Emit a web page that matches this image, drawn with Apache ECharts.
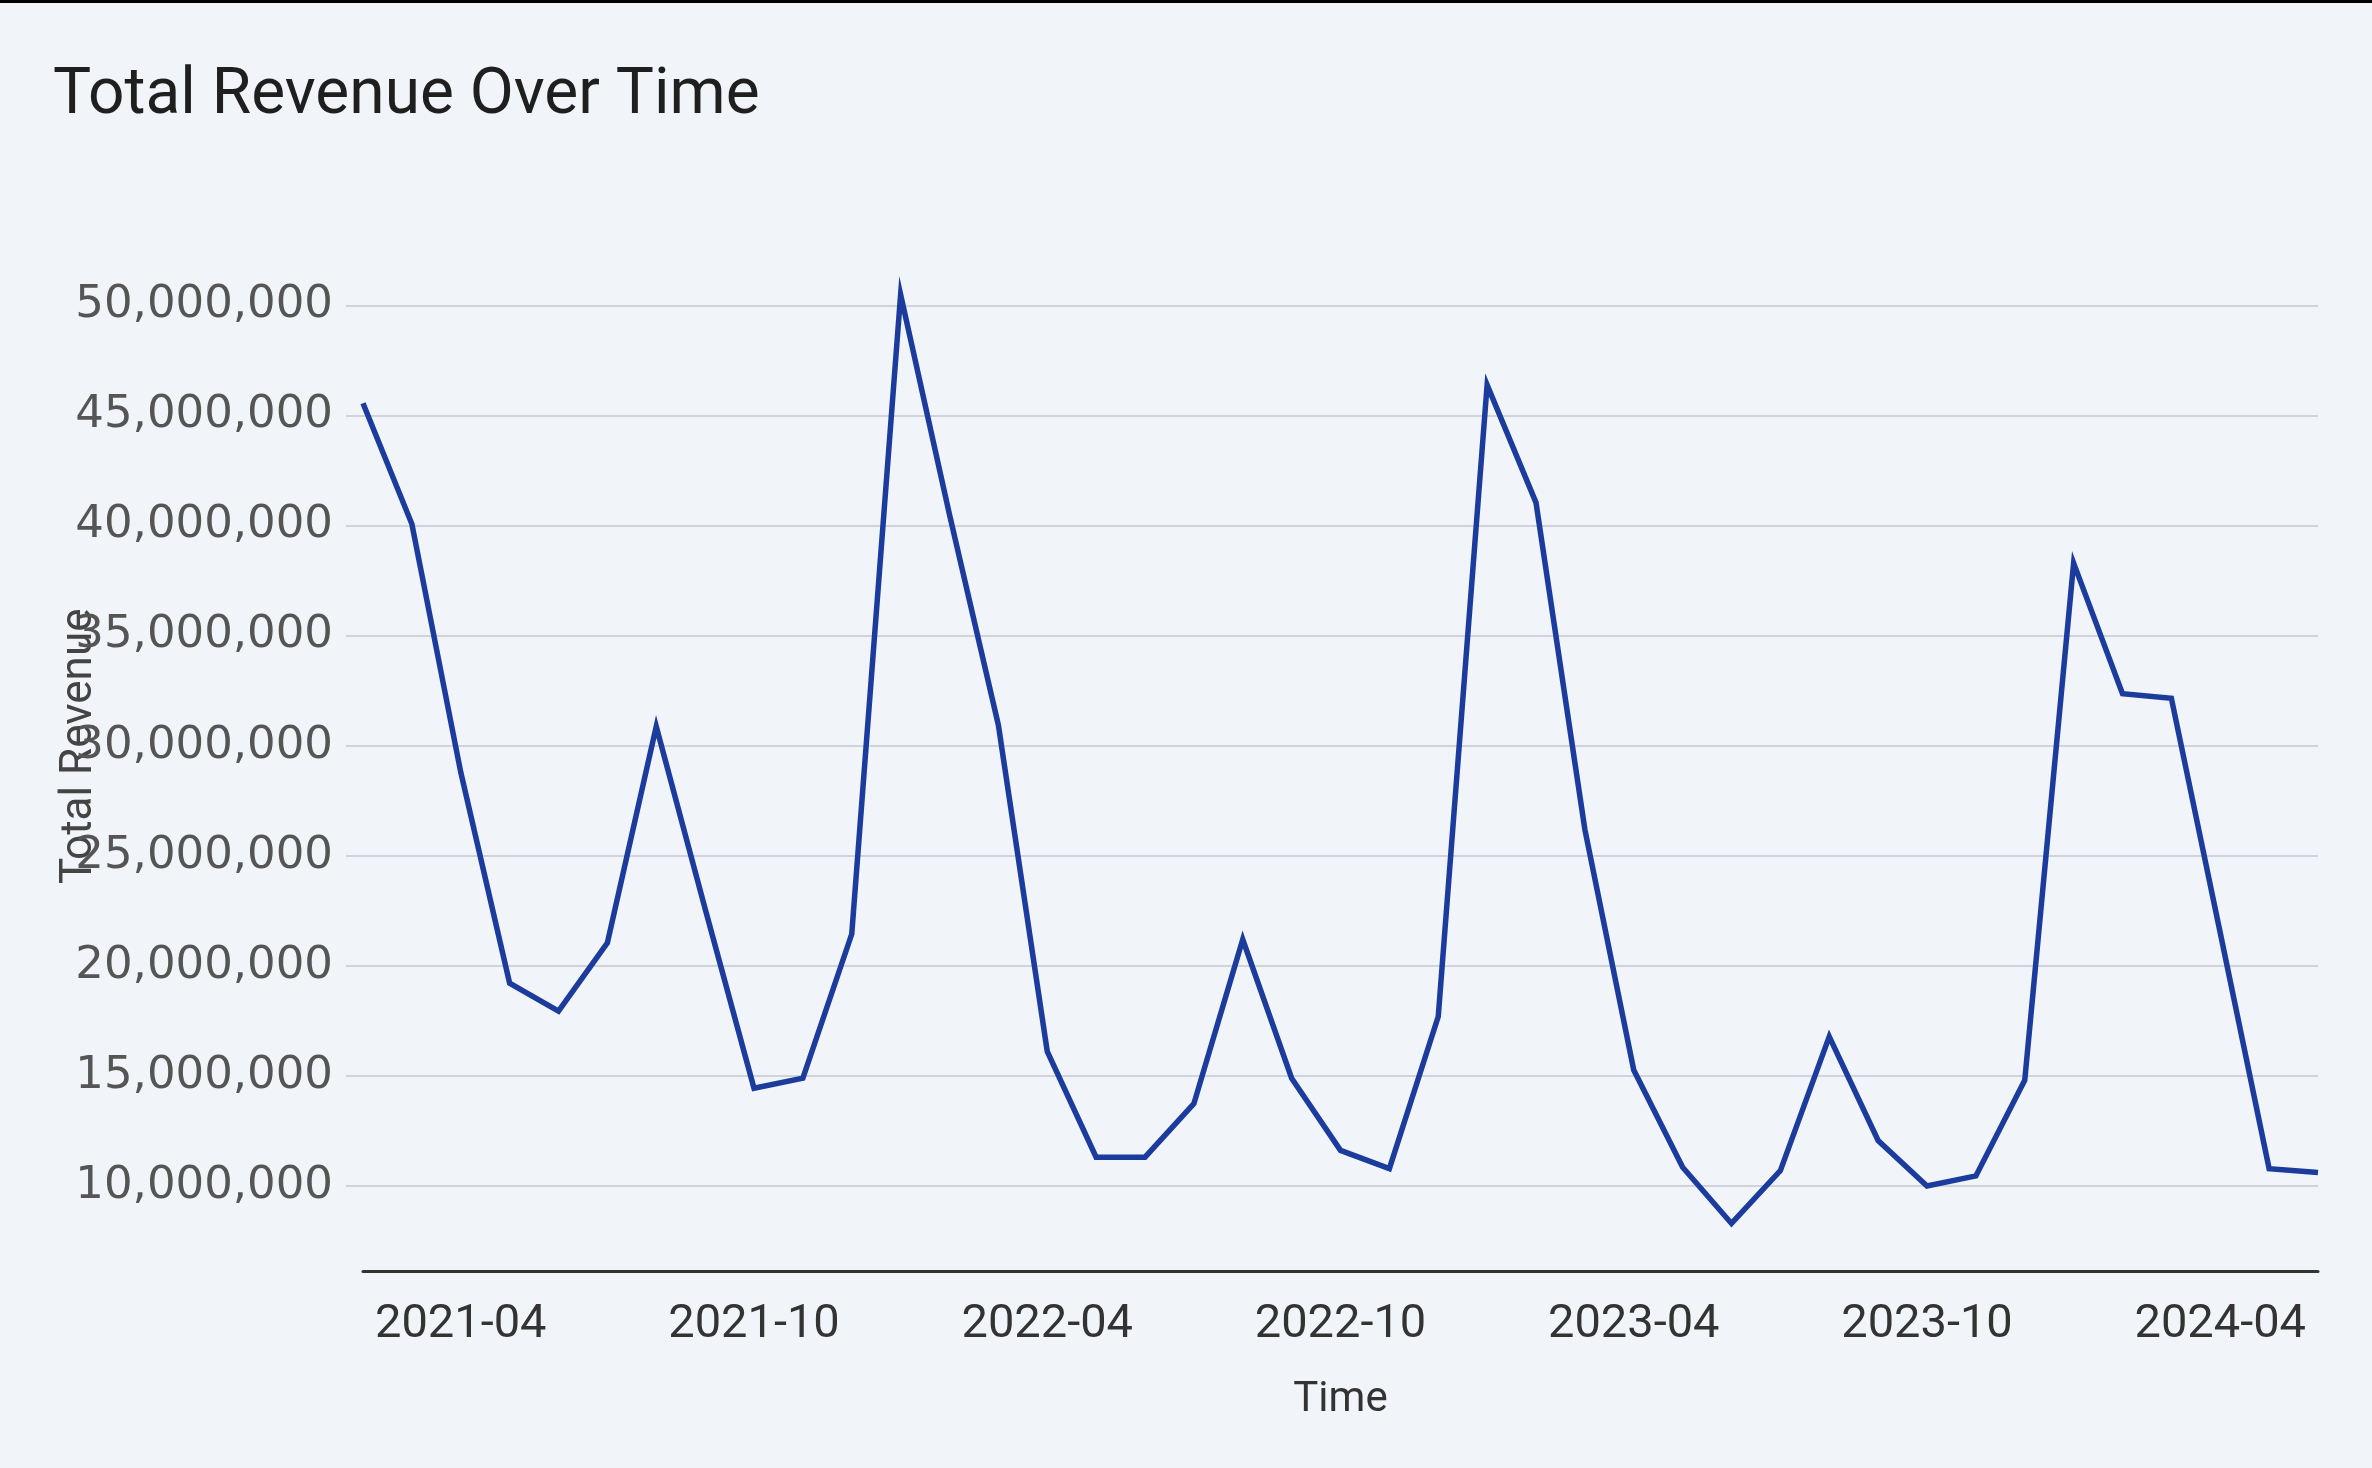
<!DOCTYPE html>
<html>
<head>
<meta charset="utf-8">
<script src="https://cdn.jsdelivr.net/npm/echarts@6/dist/echarts.min.js"></script>
<style>
  html, body { margin: 0; padding: 0; background: #f1f4f9; }
  #chart { width: 2372px; height: 1468px; }
  #topbar { position: absolute; left: 0; top: 0; width: 2372px; height: 3px; background: #000; }
</style>
</head>
<body>
<div id="chart"></div>
<div id="topbar"></div>
<script>
const months = [
  '2021-02','2021-03','2021-04','2021-05','2021-06','2021-07','2021-08','2021-09','2021-10','2021-11','2021-12',
  '2022-01','2022-02','2022-03','2022-04','2022-05','2022-06','2022-07','2022-08','2022-09','2022-10','2022-11','2022-12',
  '2023-01','2023-02','2023-03','2023-04','2023-05','2023-06','2023-07','2023-08','2023-09','2023-10','2023-11','2023-12',
  '2024-01','2024-02','2024-03','2024-04','2024-05','2024-06'
];
const totalRevenue = [
  45560000, 40080000, 28800000, 19220000, 17950000, 21050000, 30880000, 22600000, 14440000, 14900000, 21450000,
  50500000, 40500000, 30940000, 16120000, 11310000, 11310000, 13740000, 21200000, 14900000, 11620000, 10790000, 17700000,
  46400000, 41050000, 26200000, 15270000, 10850000, 8300000, 10700000, 16790000, 12070000, 10000000, 10460000, 14810000,
  38300000, 32370000, 32160000, 21500000, 10790000, 10610000
];
const yMin = 6140000;
const yMax = 50000000;

const chart = echarts.init(document.getElementById('chart'), null, { renderer: 'canvas' });
chart.setOption({
  backgroundColor: '#f1f4f9',
  animation: false,
  title: {
    text: 'Total Revenue Over Time',
    left: 48,
    top: 60,
    textStyle: { fontFamily: 'Roboto', fontSize: 64, fontWeight: 'normal', color: '#1f1f1f' }
  },
  grid: { left: 363, right: 54, top: 305.6, bottom: 197, containLabel: false },
  xAxis: {
    type: 'category',
    data: months,
    boundaryGap: false,
    name: 'Time',
    nameLocation: 'middle',
    nameGap: 108,
    nameMoveOverlap: false,
    nameTextStyle: { fontFamily: 'Roboto', fontSize: 42, color: '#333' },
    axisLine: { show: true, lineStyle: { color: '#333', width: 3 } },
    axisTick: { show: false },
    splitLine: { show: false },
    axisLabel: {
      interval: function (index) { return index % 6 === 2; },
      margin: 31,
      fontFamily: 'Roboto',
      fontSize: 47,
      color: '#333'
    }
  },
  yAxis: {
    type: 'value',
    min: yMin,
    max: yMax,
    splitNumber: 9,
    name: 'Total Revenue',
    nameLocation: 'middle',
    nameGap: 261,
    nameRotate: 90,
    nameMoveOverlap: false,
    nameTextStyle: { fontFamily: 'Roboto', fontSize: 44, color: '#444', padding: [0, 0, 0, 84] },
    axisLine: { show: false },
    axisTick: { show: true, length: 17, lineStyle: { color: '#d0d4da', width: 2 } },
    splitLine: { show: true, lineStyle: { color: '#d0d4da', width: 2 } },
    axisLabel: {
      margin: 30,
      showMinLabel: false,
      fontFamily: 'DejaVu Sans',
      fontSize: 45,
      color: '#555',
      formatter: function (v) {
        if (v % 5000000 !== 0) return '';
        return v.toLocaleString('en-US');
      }
    }
  },
  series: [{
    type: 'line',
    data: totalRevenue,
    clip: false,
    showSymbol: false,
    symbol: 'none',
    lineStyle: { color: '#1b3c9c', width: 5.5, join: 'miter' },
    itemStyle: { color: '#1b3c9c' }
  }]
});
</script>
</body>
</html>
